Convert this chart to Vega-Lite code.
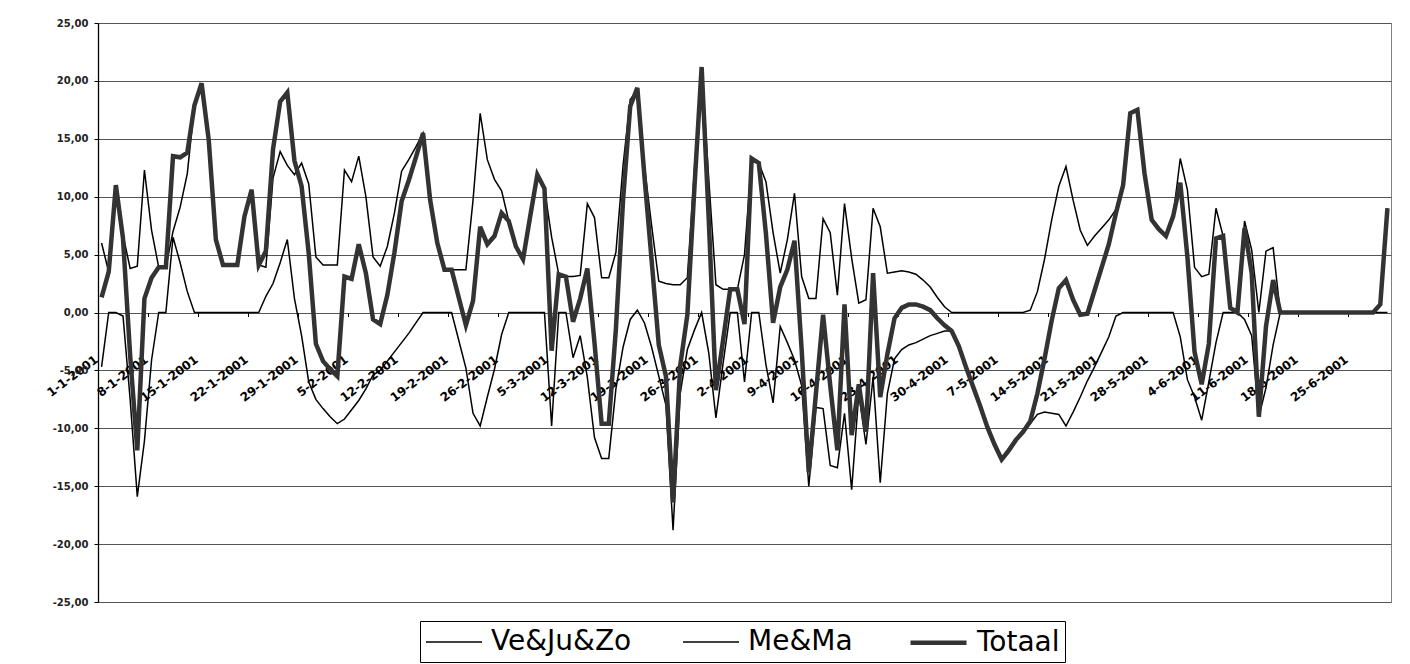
{
  "$schema": "https://vega.github.io/schema/vega-lite/v6.json",
  "width": 1293,
  "height": 579,
  "autosize": {"type": "none"},
  "padding": {"left": 98, "top": 23, "right": 19, "bottom": 62},
  "background": "white",
  "config": {"view": {"stroke": "#808080", "strokeWidth": 1}},
  "data": {"values": [
    {"datum":"2001-01-01","Ve&Ju&Zo":6.0,"Me&Ma":-4.7,"Totaal":1.3},
    {"datum":"2001-01-02","Ve&Ju&Zo":3.5,"Me&Ma":0,"Totaal":3.5},
    {"datum":"2001-01-03","Ve&Ju&Zo":11.0,"Me&Ma":0,"Totaal":11.0},
    {"datum":"2001-01-04","Ve&Ju&Zo":6.7,"Me&Ma":-0.3,"Totaal":6.4},
    {"datum":"2001-01-05","Ve&Ju&Zo":3.8,"Me&Ma":-7.5,"Totaal":-3.7},
    {"datum":"2001-01-06","Ve&Ju&Zo":4.0,"Me&Ma":-15.9,"Totaal":-11.9},
    {"datum":"2001-01-07","Ve&Ju&Zo":12.3,"Me&Ma":-11.1,"Totaal":1.2},
    {"datum":"2001-01-08","Ve&Ju&Zo":7.1,"Me&Ma":-4.1,"Totaal":3.0},
    {"datum":"2001-01-09","Ve&Ju&Zo":3.9,"Me&Ma":0,"Totaal":3.9},
    {"datum":"2001-01-10","Ve&Ju&Zo":3.9,"Me&Ma":0,"Totaal":3.9},
    {"datum":"2001-01-11","Ve&Ju&Zo":7.0,"Me&Ma":6.5,"Totaal":13.5},
    {"datum":"2001-01-12","Ve&Ju&Zo":9.1,"Me&Ma":4.3,"Totaal":13.4},
    {"datum":"2001-01-13","Ve&Ju&Zo":12.0,"Me&Ma":1.8,"Totaal":13.8},
    {"datum":"2001-01-14","Ve&Ju&Zo":17.9,"Me&Ma":0,"Totaal":17.9},
    {"datum":"2001-01-15","Ve&Ju&Zo":19.8,"Me&Ma":0,"Totaal":19.8},
    {"datum":"2001-01-16","Ve&Ju&Zo":14.9,"Me&Ma":0,"Totaal":14.9},
    {"datum":"2001-01-17","Ve&Ju&Zo":6.3,"Me&Ma":0,"Totaal":6.3},
    {"datum":"2001-01-18","Ve&Ju&Zo":4.1,"Me&Ma":0,"Totaal":4.1},
    {"datum":"2001-01-19","Ve&Ju&Zo":4.1,"Me&Ma":0,"Totaal":4.1},
    {"datum":"2001-01-20","Ve&Ju&Zo":4.1,"Me&Ma":0,"Totaal":4.1},
    {"datum":"2001-01-21","Ve&Ju&Zo":8.3,"Me&Ma":0,"Totaal":8.3},
    {"datum":"2001-01-22","Ve&Ju&Zo":10.6,"Me&Ma":0,"Totaal":10.6},
    {"datum":"2001-01-23","Ve&Ju&Zo":4.1,"Me&Ma":0,"Totaal":4.1},
    {"datum":"2001-01-24","Ve&Ju&Zo":3.9,"Me&Ma":1.4,"Totaal":5.3},
    {"datum":"2001-01-25","Ve&Ju&Zo":11.6,"Me&Ma":2.5,"Totaal":14.1},
    {"datum":"2001-01-26","Ve&Ju&Zo":13.9,"Me&Ma":4.3,"Totaal":18.2},
    {"datum":"2001-01-27","Ve&Ju&Zo":12.7,"Me&Ma":6.3,"Totaal":19.0},
    {"datum":"2001-01-28","Ve&Ju&Zo":11.9,"Me&Ma":1.2,"Totaal":13.1},
    {"datum":"2001-01-29","Ve&Ju&Zo":12.9,"Me&Ma":-2.0,"Totaal":10.9},
    {"datum":"2001-01-30","Ve&Ju&Zo":11.1,"Me&Ma":-6.0,"Totaal":5.1},
    {"datum":"2001-01-31","Ve&Ju&Zo":4.8,"Me&Ma":-7.5,"Totaal":-2.7},
    {"datum":"2001-02-01","Ve&Ju&Zo":4.1,"Me&Ma":-8.3,"Totaal":-4.2},
    {"datum":"2001-02-02","Ve&Ju&Zo":4.1,"Me&Ma":-9.0,"Totaal":-4.9},
    {"datum":"2001-02-03","Ve&Ju&Zo":4.1,"Me&Ma":-9.6,"Totaal":-5.5},
    {"datum":"2001-02-04","Ve&Ju&Zo":12.3,"Me&Ma":-9.2,"Totaal":3.1},
    {"datum":"2001-02-05","Ve&Ju&Zo":11.3,"Me&Ma":-8.4,"Totaal":2.9},
    {"datum":"2001-02-06","Ve&Ju&Zo":13.5,"Me&Ma":-7.6,"Totaal":5.9},
    {"datum":"2001-02-07","Ve&Ju&Zo":10.0,"Me&Ma":-6.6,"Totaal":3.4},
    {"datum":"2001-02-08","Ve&Ju&Zo":4.8,"Me&Ma":-5.4,"Totaal":-0.6},
    {"datum":"2001-02-09","Ve&Ju&Zo":4.0,"Me&Ma":-5.0,"Totaal":-1.0},
    {"datum":"2001-02-10","Ve&Ju&Zo":5.7,"Me&Ma":-4.2,"Totaal":1.5},
    {"datum":"2001-02-11","Ve&Ju&Zo":8.6,"Me&Ma":-3.4,"Totaal":5.2},
    {"datum":"2001-02-12","Ve&Ju&Zo":12.2,"Me&Ma":-2.6,"Totaal":9.6},
    {"datum":"2001-02-13","Ve&Ju&Zo":13.2,"Me&Ma":-1.8,"Totaal":11.4},
    {"datum":"2001-02-14","Ve&Ju&Zo":14.3,"Me&Ma":-0.9,"Totaal":13.4},
    {"datum":"2001-02-15","Ve&Ju&Zo":15.5,"Me&Ma":0,"Totaal":15.5},
    {"datum":"2001-02-16","Ve&Ju&Zo":9.7,"Me&Ma":0,"Totaal":9.7},
    {"datum":"2001-02-17","Ve&Ju&Zo":6.0,"Me&Ma":0,"Totaal":6.0},
    {"datum":"2001-02-18","Ve&Ju&Zo":3.7,"Me&Ma":0,"Totaal":3.7},
    {"datum":"2001-02-19","Ve&Ju&Zo":3.7,"Me&Ma":0,"Totaal":3.7},
    {"datum":"2001-02-20","Ve&Ju&Zo":3.7,"Me&Ma":-2.4,"Totaal":1.3},
    {"datum":"2001-02-21","Ve&Ju&Zo":3.7,"Me&Ma":-4.8,"Totaal":-1.1},
    {"datum":"2001-02-22","Ve&Ju&Zo":9.7,"Me&Ma":-8.7,"Totaal":1.0},
    {"datum":"2001-02-23","Ve&Ju&Zo":17.2,"Me&Ma":-9.8,"Totaal":7.4},
    {"datum":"2001-02-24","Ve&Ju&Zo":13.2,"Me&Ma":-7.3,"Totaal":5.9},
    {"datum":"2001-02-25","Ve&Ju&Zo":11.5,"Me&Ma":-4.9,"Totaal":6.6},
    {"datum":"2001-02-26","Ve&Ju&Zo":10.5,"Me&Ma":-1.9,"Totaal":8.6},
    {"datum":"2001-02-27","Ve&Ju&Zo":7.9,"Me&Ma":0,"Totaal":7.9},
    {"datum":"2001-02-28","Ve&Ju&Zo":5.7,"Me&Ma":0,"Totaal":5.7},
    {"datum":"2001-03-01","Ve&Ju&Zo":4.6,"Me&Ma":0,"Totaal":4.6},
    {"datum":"2001-03-02","Ve&Ju&Zo":8.3,"Me&Ma":0,"Totaal":8.3},
    {"datum":"2001-03-03","Ve&Ju&Zo":11.9,"Me&Ma":0,"Totaal":11.9},
    {"datum":"2001-03-04","Ve&Ju&Zo":10.7,"Me&Ma":0,"Totaal":10.7},
    {"datum":"2001-03-05","Ve&Ju&Zo":6.5,"Me&Ma":-9.8,"Totaal":-3.3},
    {"datum":"2001-03-06","Ve&Ju&Zo":3.3,"Me&Ma":0,"Totaal":3.3},
    {"datum":"2001-03-07","Ve&Ju&Zo":3.1,"Me&Ma":0,"Totaal":3.1},
    {"datum":"2001-03-08","Ve&Ju&Zo":3.1,"Me&Ma":-3.9,"Totaal":-0.8},
    {"datum":"2001-03-09","Ve&Ju&Zo":3.2,"Me&Ma":-2.0,"Totaal":1.2},
    {"datum":"2001-03-10","Ve&Ju&Zo":9.4,"Me&Ma":-5.6,"Totaal":3.8},
    {"datum":"2001-03-11","Ve&Ju&Zo":8.2,"Me&Ma":-10.8,"Totaal":-2.6},
    {"datum":"2001-03-12","Ve&Ju&Zo":3.0,"Me&Ma":-12.6,"Totaal":-9.6},
    {"datum":"2001-03-13","Ve&Ju&Zo":3.0,"Me&Ma":-12.6,"Totaal":-9.6},
    {"datum":"2001-03-14","Ve&Ju&Zo":5.2,"Me&Ma":-6.6,"Totaal":-1.4},
    {"datum":"2001-03-15","Ve&Ju&Zo":12.7,"Me&Ma":-3.0,"Totaal":9.7},
    {"datum":"2001-03-16","Ve&Ju&Zo":18.4,"Me&Ma":-0.6,"Totaal":17.8},
    {"datum":"2001-03-17","Ve&Ju&Zo":19.2,"Me&Ma":0.2,"Totaal":19.4},
    {"datum":"2001-03-18","Ve&Ju&Zo":12.6,"Me&Ma":-0.9,"Totaal":11.7},
    {"datum":"2001-03-19","Ve&Ju&Zo":7.5,"Me&Ma":-3.0,"Totaal":4.5},
    {"datum":"2001-03-20","Ve&Ju&Zo":2.7,"Me&Ma":-5.5,"Totaal":-2.8},
    {"datum":"2001-03-21","Ve&Ju&Zo":2.5,"Me&Ma":-8.0,"Totaal":-5.5},
    {"datum":"2001-03-22","Ve&Ju&Zo":2.4,"Me&Ma":-18.8,"Totaal":-16.4},
    {"datum":"2001-03-23","Ve&Ju&Zo":2.4,"Me&Ma":-7.0,"Totaal":-4.6},
    {"datum":"2001-03-24","Ve&Ju&Zo":3.0,"Me&Ma":-3.2,"Totaal":-0.2},
    {"datum":"2001-03-25","Ve&Ju&Zo":12.4,"Me&Ma":-1.5,"Totaal":10.9},
    {"datum":"2001-03-26","Ve&Ju&Zo":21.2,"Me&Ma":0,"Totaal":21.2},
    {"datum":"2001-03-27","Ve&Ju&Zo":11.5,"Me&Ma":-3.5,"Totaal":8.0},
    {"datum":"2001-03-28","Ve&Ju&Zo":2.4,"Me&Ma":-9.1,"Totaal":-6.7},
    {"datum":"2001-03-29","Ve&Ju&Zo":2.0,"Me&Ma":-4.4,"Totaal":-2.4},
    {"datum":"2001-03-30","Ve&Ju&Zo":2.0,"Me&Ma":0,"Totaal":2.0},
    {"datum":"2001-03-31","Ve&Ju&Zo":2.0,"Me&Ma":0,"Totaal":2.0},
    {"datum":"2001-04-01","Ve&Ju&Zo":5.0,"Me&Ma":-6.0,"Totaal":-1.0},
    {"datum":"2001-04-02","Ve&Ju&Zo":13.3,"Me&Ma":0,"Totaal":13.3},
    {"datum":"2001-04-03","Ve&Ju&Zo":12.9,"Me&Ma":0,"Totaal":12.9},
    {"datum":"2001-04-04","Ve&Ju&Zo":11.3,"Me&Ma":-4.5,"Totaal":6.8},
    {"datum":"2001-04-05","Ve&Ju&Zo":6.9,"Me&Ma":-7.8,"Totaal":-0.9},
    {"datum":"2001-04-06","Ve&Ju&Zo":3.4,"Me&Ma":-1.2,"Totaal":2.2},
    {"datum":"2001-04-07","Ve&Ju&Zo":6.3,"Me&Ma":-2.6,"Totaal":3.7},
    {"datum":"2001-04-08","Ve&Ju&Zo":10.3,"Me&Ma":-4.1,"Totaal":6.2},
    {"datum":"2001-04-09","Ve&Ju&Zo":3.1,"Me&Ma":-6.3,"Totaal":-3.2},
    {"datum":"2001-04-10","Ve&Ju&Zo":1.2,"Me&Ma":-15.0,"Totaal":-13.8},
    {"datum":"2001-04-11","Ve&Ju&Zo":1.2,"Me&Ma":-8.2,"Totaal":-7.0},
    {"datum":"2001-04-12","Ve&Ju&Zo":8.1,"Me&Ma":-8.3,"Totaal":-0.2},
    {"datum":"2001-04-13","Ve&Ju&Zo":6.9,"Me&Ma":-13.2,"Totaal":-6.3},
    {"datum":"2001-04-14","Ve&Ju&Zo":1.5,"Me&Ma":-13.4,"Totaal":-11.9},
    {"datum":"2001-04-15","Ve&Ju&Zo":9.4,"Me&Ma":-8.7,"Totaal":0.7},
    {"datum":"2001-04-16","Ve&Ju&Zo":4.7,"Me&Ma":-15.3,"Totaal":-10.6},
    {"datum":"2001-04-17","Ve&Ju&Zo":0.8,"Me&Ma":-7.0,"Totaal":-6.2},
    {"datum":"2001-04-18","Ve&Ju&Zo":1.1,"Me&Ma":-11.4,"Totaal":-10.3},
    {"datum":"2001-04-19","Ve&Ju&Zo":9.0,"Me&Ma":-5.6,"Totaal":3.4},
    {"datum":"2001-04-20","Ve&Ju&Zo":7.4,"Me&Ma":-14.7,"Totaal":-7.3},
    {"datum":"2001-04-21","Ve&Ju&Zo":3.4,"Me&Ma":-7.0,"Totaal":-3.6},
    {"datum":"2001-04-22","Ve&Ju&Zo":3.5,"Me&Ma":-4.0,"Totaal":-0.5},
    {"datum":"2001-04-23","Ve&Ju&Zo":3.6,"Me&Ma":-3.2,"Totaal":0.4},
    {"datum":"2001-04-24","Ve&Ju&Zo":3.5,"Me&Ma":-2.8,"Totaal":0.7},
    {"datum":"2001-04-25","Ve&Ju&Zo":3.3,"Me&Ma":-2.6,"Totaal":0.7},
    {"datum":"2001-04-26","Ve&Ju&Zo":2.8,"Me&Ma":-2.3,"Totaal":0.5},
    {"datum":"2001-04-27","Ve&Ju&Zo":2.2,"Me&Ma":-2.0,"Totaal":0.2},
    {"datum":"2001-04-28","Ve&Ju&Zo":1.3,"Me&Ma":-1.8,"Totaal":-0.5},
    {"datum":"2001-04-29","Ve&Ju&Zo":0.5,"Me&Ma":-1.6,"Totaal":-1.1},
    {"datum":"2001-04-30","Ve&Ju&Zo":0,"Me&Ma":-1.6,"Totaal":-1.6},
    {"datum":"2001-05-01","Ve&Ju&Zo":0,"Me&Ma":-2.9,"Totaal":-2.9},
    {"datum":"2001-05-02","Ve&Ju&Zo":0,"Me&Ma":-4.7,"Totaal":-4.7},
    {"datum":"2001-05-03","Ve&Ju&Zo":0,"Me&Ma":-6.4,"Totaal":-6.4},
    {"datum":"2001-05-04","Ve&Ju&Zo":0,"Me&Ma":-8.1,"Totaal":-8.1},
    {"datum":"2001-05-05","Ve&Ju&Zo":0,"Me&Ma":-9.9,"Totaal":-9.9},
    {"datum":"2001-05-06","Ve&Ju&Zo":0,"Me&Ma":-11.4,"Totaal":-11.4},
    {"datum":"2001-05-07","Ve&Ju&Zo":0,"Me&Ma":-12.7,"Totaal":-12.7},
    {"datum":"2001-05-08","Ve&Ju&Zo":0,"Me&Ma":-11.9,"Totaal":-11.9},
    {"datum":"2001-05-09","Ve&Ju&Zo":0,"Me&Ma":-11.0,"Totaal":-11.0},
    {"datum":"2001-05-10","Ve&Ju&Zo":0,"Me&Ma":-10.3,"Totaal":-10.3},
    {"datum":"2001-05-11","Ve&Ju&Zo":0.2,"Me&Ma":-9.6,"Totaal":-9.4},
    {"datum":"2001-05-12","Ve&Ju&Zo":1.8,"Me&Ma":-8.8,"Totaal":-7.0},
    {"datum":"2001-05-13","Ve&Ju&Zo":4.6,"Me&Ma":-8.6,"Totaal":-4.0},
    {"datum":"2001-05-14","Ve&Ju&Zo":8.0,"Me&Ma":-8.7,"Totaal":-0.7},
    {"datum":"2001-05-15","Ve&Ju&Zo":10.9,"Me&Ma":-8.8,"Totaal":2.1},
    {"datum":"2001-05-16","Ve&Ju&Zo":12.6,"Me&Ma":-9.8,"Totaal":2.8},
    {"datum":"2001-05-17","Ve&Ju&Zo":9.7,"Me&Ma":-8.6,"Totaal":1.1},
    {"datum":"2001-05-18","Ve&Ju&Zo":7.1,"Me&Ma":-7.3,"Totaal":-0.2},
    {"datum":"2001-05-19","Ve&Ju&Zo":5.8,"Me&Ma":-5.9,"Totaal":-0.1},
    {"datum":"2001-05-20","Ve&Ju&Zo":6.6,"Me&Ma":-4.7,"Totaal":1.9},
    {"datum":"2001-05-21","Ve&Ju&Zo":7.3,"Me&Ma":-3.4,"Totaal":3.9},
    {"datum":"2001-05-22","Ve&Ju&Zo":8.0,"Me&Ma":-2.1,"Totaal":5.9},
    {"datum":"2001-05-23","Ve&Ju&Zo":8.9,"Me&Ma":-0.3,"Totaal":8.6},
    {"datum":"2001-05-24","Ve&Ju&Zo":11.0,"Me&Ma":0,"Totaal":11.0},
    {"datum":"2001-05-25","Ve&Ju&Zo":17.2,"Me&Ma":0,"Totaal":17.2},
    {"datum":"2001-05-26","Ve&Ju&Zo":17.5,"Me&Ma":0,"Totaal":17.5},
    {"datum":"2001-05-27","Ve&Ju&Zo":12.0,"Me&Ma":0,"Totaal":12.0},
    {"datum":"2001-05-28","Ve&Ju&Zo":8.0,"Me&Ma":0,"Totaal":8.0},
    {"datum":"2001-05-29","Ve&Ju&Zo":7.2,"Me&Ma":0,"Totaal":7.2},
    {"datum":"2001-05-30","Ve&Ju&Zo":6.6,"Me&Ma":0,"Totaal":6.6},
    {"datum":"2001-05-31","Ve&Ju&Zo":8.3,"Me&Ma":0,"Totaal":8.3},
    {"datum":"2001-06-01","Ve&Ju&Zo":13.3,"Me&Ma":-2.1,"Totaal":11.2},
    {"datum":"2001-06-02","Ve&Ju&Zo":10.6,"Me&Ma":-5.8,"Totaal":4.8},
    {"datum":"2001-06-03","Ve&Ju&Zo":3.9,"Me&Ma":-7.3,"Totaal":-3.4},
    {"datum":"2001-06-04","Ve&Ju&Zo":3.1,"Me&Ma":-9.3,"Totaal":-6.2},
    {"datum":"2001-06-05","Ve&Ju&Zo":3.3,"Me&Ma":-6.0,"Totaal":-2.7},
    {"datum":"2001-06-06","Ve&Ju&Zo":9.0,"Me&Ma":-2.6,"Totaal":6.4},
    {"datum":"2001-06-07","Ve&Ju&Zo":6.6,"Me&Ma":0,"Totaal":6.6},
    {"datum":"2001-06-08","Ve&Ju&Zo":0.4,"Me&Ma":0,"Totaal":0.4},
    {"datum":"2001-06-09","Ve&Ju&Zo":0,"Me&Ma":0,"Totaal":0},
    {"datum":"2001-06-10","Ve&Ju&Zo":7.9,"Me&Ma":-0.6,"Totaal":7.3},
    {"datum":"2001-06-11","Ve&Ju&Zo":5.4,"Me&Ma":-2.0,"Totaal":3.4},
    {"datum":"2001-06-12","Ve&Ju&Zo":0,"Me&Ma":-9.0,"Totaal":-9.0},
    {"datum":"2001-06-13","Ve&Ju&Zo":5.3,"Me&Ma":-6.5,"Totaal":-1.2},
    {"datum":"2001-06-14","Ve&Ju&Zo":5.6,"Me&Ma":-2.8,"Totaal":2.8},
    {"datum":"2001-06-15","Ve&Ju&Zo":0,"Me&Ma":0,"Totaal":0},
    {"datum":"2001-06-16","Ve&Ju&Zo":0,"Me&Ma":0,"Totaal":0},
    {"datum":"2001-06-17","Ve&Ju&Zo":0,"Me&Ma":0,"Totaal":0},
    {"datum":"2001-06-18","Ve&Ju&Zo":0,"Me&Ma":0,"Totaal":0},
    {"datum":"2001-06-19","Ve&Ju&Zo":0,"Me&Ma":0,"Totaal":0},
    {"datum":"2001-06-20","Ve&Ju&Zo":0,"Me&Ma":0,"Totaal":0},
    {"datum":"2001-06-21","Ve&Ju&Zo":0,"Me&Ma":0,"Totaal":0},
    {"datum":"2001-06-22","Ve&Ju&Zo":0,"Me&Ma":0,"Totaal":0},
    {"datum":"2001-06-23","Ve&Ju&Zo":0,"Me&Ma":0,"Totaal":0},
    {"datum":"2001-06-24","Ve&Ju&Zo":0,"Me&Ma":0,"Totaal":0},
    {"datum":"2001-06-25","Ve&Ju&Zo":0,"Me&Ma":0,"Totaal":0},
    {"datum":"2001-06-26","Ve&Ju&Zo":0,"Me&Ma":0,"Totaal":0},
    {"datum":"2001-06-27","Ve&Ju&Zo":0,"Me&Ma":0,"Totaal":0},
    {"datum":"2001-06-28","Ve&Ju&Zo":0,"Me&Ma":0,"Totaal":0},
    {"datum":"2001-06-29","Ve&Ju&Zo":0.7,"Me&Ma":0,"Totaal":0.7},
    {"datum":"2001-06-30","Ve&Ju&Zo":9.0,"Me&Ma":0,"Totaal":9.0}
  ]},
  "transform": [{"fold": ["Ve&Ju&Zo", "Me&Ma", "Totaal"], "as": ["serie", "waarde"]}],
  "mark": {"type": "line", "strokeJoin": "miter"},
  "encoding": {
    "x": {
      "field": "datum", "type": "temporal",
      "scale": {"type": "utc", "domain": [
        {"year": 2000, "month": 12, "date": 31, "hours": 12, "utc": true},
        {"year": 2001, "month": 6, "date": 30, "hours": 12, "utc": true}
      ]},
      "axis": {
        "title": null, "offset": -289.5, "domain": false, "grid": false,
        "ticks": true, "tickSize": 4, "tickColor": "#000", "tickOffset": -3.6,
        "values": [
          {"year":2001,"month":1,"date":1,"utc":true},{"year":2001,"month":1,"date":8,"utc":true},
          {"year":2001,"month":1,"date":15,"utc":true},{"year":2001,"month":1,"date":22,"utc":true},
          {"year":2001,"month":1,"date":29,"utc":true},{"year":2001,"month":2,"date":5,"utc":true},
          {"year":2001,"month":2,"date":12,"utc":true},{"year":2001,"month":2,"date":19,"utc":true},
          {"year":2001,"month":2,"date":26,"utc":true},{"year":2001,"month":3,"date":5,"utc":true},
          {"year":2001,"month":3,"date":12,"utc":true},{"year":2001,"month":3,"date":19,"utc":true},
          {"year":2001,"month":3,"date":26,"utc":true},{"year":2001,"month":4,"date":2,"utc":true},
          {"year":2001,"month":4,"date":9,"utc":true},{"year":2001,"month":4,"date":16,"utc":true},
          {"year":2001,"month":4,"date":23,"utc":true},{"year":2001,"month":4,"date":30,"utc":true},
          {"year":2001,"month":5,"date":7,"utc":true},{"year":2001,"month":5,"date":14,"utc":true},
          {"year":2001,"month":5,"date":21,"utc":true},{"year":2001,"month":5,"date":28,"utc":true},
          {"year":2001,"month":6,"date":4,"utc":true},{"year":2001,"month":6,"date":11,"utc":true},
          {"year":2001,"month":6,"date":18,"utc":true},{"year":2001,"month":6,"date":25,"utc":true}
        ],
        "labelExpr": "utcFormat(datum.value, '%-d-%-m-%Y')",
        "labelAngle": -37, "labelAlign": "right", "labelBaseline": "top",
        "labelPadding": 37, "labelOffset": -5,
        "labelFont": "DejaVu Sans", "labelFontWeight": "bold", "labelFontSize": 12, "labelColor": "#000",
        "labelOverlap": false, "labelBound": false, "labelFlush": false
      }
    },
    "y": {
      "field": "waarde", "type": "quantitative",
      "scale": {"domain": [-25, 25], "nice": false, "zero": false},
      "axis": {
        "title": null,
        "values": [-25, -20, -15, -10, -5, 0, 5, 10, 15, 20, 25],
        "grid": true, "gridColor": "#555555", "gridWidth": 1,
        "domain": true, "domainColor": "#000", "domainWidth": 1.3,
        "ticks": true, "tickColor": "#000", "tickSize": 4,
        "labelExpr": "(datum.value < 0 ? '-' : '') + abs(datum.value) + ',00'",
        "labelFont": "DejaVu Sans", "labelFontWeight": "bold", "labelFontSize": 10, "labelColor": "#222",
        "labelPadding": 6
      }
    },
    "color": {
      "field": "serie", "type": "nominal",
      "scale": {"domain": ["Ve&Ju&Zo", "Me&Ma", "Totaal"], "range": ["#000000", "#000000", "#333333"]},
      "legend": {
        "title": null, "orient": "none", "legendX": 322, "legendY": 598, "direction": "horizontal",
        "symbolType": "M-1,0H3", "symbolSize": 784,
        "labelFont": "DejaVu Sans", "labelFontSize": 28, "labelColor": "#000", "labelLimit": 400,
        "labelOffset": 36, "columnPadding": 48, "padding": 5,
        "strokeColor": "#000", "fillColor": "#fff"
      }
    },
    "strokeWidth": {
      "field": "serie", "type": "nominal",
      "scale": {"type": "ordinal", "domain": ["Ve&Ju&Zo", "Me&Ma", "Totaal"], "range": [1.5, 1.5, 4.5]},
      "legend": {
        "title": null, "orient": "none", "legendX": 322, "legendY": 598, "direction": "horizontal",
        "symbolType": "M-1,0H3", "symbolSize": 784,
        "labelFont": "DejaVu Sans", "labelFontSize": 28, "labelColor": "#000", "labelLimit": 400,
        "labelOffset": 36, "columnPadding": 48, "padding": 5,
        "strokeColor": "#000", "fillColor": "#fff"
      }
    }
  }
}
